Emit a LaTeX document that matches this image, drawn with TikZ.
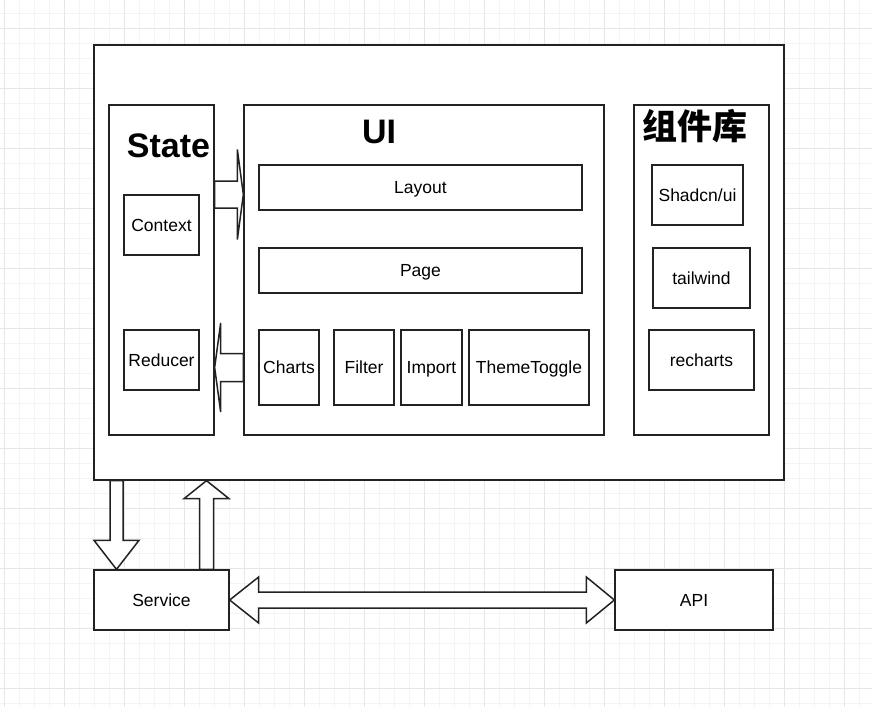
\documentclass[tikz,border=0pt]{standalone}
\usepackage{fontspec}
\setmainfont{Liberation Sans}
\newfontfamily\cjkfont{Noto Sans CJK SC}
\usetikzlibrary{calc}
\definecolor{strokec}{HTML}{222222}
\definecolor{gridminor}{HTML}{F4F4F4}
\definecolor{gridmajor}{HTML}{E6E6E6}
\tikzset{
  box/.style={draw=strokec, line width=1.3pt, fill=white, rectangle, inner sep=0pt,
    font=\fontsize{17.5}{20}\selectfont, text height=12.6pt, text depth=0pt},
  heading/.style={font=\fontsize{34}{38}\selectfont\bfseries, inner sep=0pt, anchor=base},
  barrow/.style={draw=strokec, line width=1.5pt, fill=white, line join=miter},
}
% #1 start, #2 tip, #3 body half width, #4 head half width, #5 head length
\newcommand\flatarrow[5]{%
  \coordinate (fa-a) at (#1);
  \coordinate (fa-b) at (#2);
  \coordinate (fa-h) at ($(fa-b)!#5!(fa-a)$);
  \draw[barrow] ($(fa-a)!#3!90:(fa-b)$) -- ($(fa-h)!#3!-90:(fa-a)$) -- ($(fa-h)!#4!-90:(fa-a)$)
    -- (fa-b) -- ($(fa-h)!#4!90:(fa-a)$) -- ($(fa-h)!#3!90:(fa-a)$) -- ($(fa-a)!#3!-90:(fa-b)$) -- cycle;
}
\begin{document}
\begin{tikzpicture}[x=1pt,y=-1pt]
\useasboundingbox (0,0) rectangle (872,707);
\fill[white] (0,0) rectangle (872,707);
% grid
\foreach \x in {4,19,...,872} {\draw[gridminor, line width=0.8pt] (\x,0) -- (\x,707);}
\foreach \y in {13,28,...,707} {\draw[gridminor, line width=0.8pt] (0,\y) -- (872,\y);}
\foreach \x in {4,64,...,872} {\draw[gridmajor, line width=0.8pt] (\x,0) -- (\x,707);}
\foreach \y in {28,88,...,707} {\draw[gridmajor, line width=0.8pt] (0,\y) -- (872,\y);}

% outer container
\node[box, minimum width=690pt, minimum height=435pt] (outer) at (439,262.5) {};
% groups
\node[box, minimum width=105pt, minimum height=330pt] (state) at (161.5,270) {};
\node[box, minimum width=360pt, minimum height=330pt] (ui) at (424,270) {};
\node[box, minimum width=135pt, minimum height=330pt] (lib) at (701.5,270) {};

\node[heading] (statet) at (168.5,157) {State};
\node[heading] (uit) at (379,143) {UI};
\node[font=\fontsize{35}{38}\selectfont\cjkfont\bfseries, inner sep=0pt] (libt) at (694.5,126) {组件库};

% state children
\node[box, minimum width=75pt, minimum height=60pt] (context) at (161.5,225) {Context};
\node[box, minimum width=75pt, minimum height=60pt] (reducer) at (161.5,360) {Reducer};

% ui children
\node[box, minimum width=323pt, minimum height=45pt] (layout) at (420.5,187.5) {Layout};
\node[box, minimum width=323pt, minimum height=45pt] (page) at (420.5,270.5) {Page};
\node[box, minimum width=60pt, minimum height=75pt] (charts) at (289,367.5) {Charts};
\node[box, minimum width=60pt, minimum height=75pt] (filter) at (364,367.5) {Filter};
\node[box, minimum width=61pt, minimum height=75pt] (import) at (431.5,367.5) {Import};
\node[box, minimum width=120pt, minimum height=75pt] (theme) at (529,367.5) {ThemeToggle};

% lib children
\node[box, minimum width=91pt, minimum height=60pt] (shadcn) at (697.5,195) {Shadcn/ui};
\node[box, minimum width=97pt, minimum height=60pt] (tailwind) at (701.5,278) {tailwind};
\node[box, minimum width=105pt, minimum height=60pt] (recharts) at (701.5,360) {recharts};

% bottom
\node[box, minimum width=135pt, minimum height=60pt] (service) at (161.5,600) {Service};
\node[box, minimum width=158pt, minimum height=60pt] (api) at (694,600) {API};

% block arrows
\flatarrow{state.east |- 0,194.5}{ui.west |- 0,194.5}{13.5pt}{45pt}{6pt}
\flatarrow{ui.west |- 0,367.5}{state.east |- 0,367.5}{14pt}{44.5pt}{6pt}
\flatarrow{116.5,0 |- outer.south}{116.5,0 |- service.north}{6.5pt}{22.5pt}{29pt}
\flatarrow{206.5,0 |- service.north}{206.5,0 |- outer.south}{7pt}{22.5pt}{18pt}

% double arrow service <-> api
\coordinate (da-l) at (service.east);
\coordinate (da-r) at (api.west);
\draw[barrow] (da-l) -- ($(da-l)+(29,-23)$) -- ($(da-l)+(29,-8)$) -- ($(da-r)+(-28,-8)$) -- ($(da-r)+(-28,-23)$)
  -- (da-r) -- ($(da-r)+(-28,23)$) -- ($(da-r)+(-28,8)$) -- ($(da-l)+(29,8)$) -- ($(da-l)+(29,23)$) -- cycle;
\end{tikzpicture}
\end{document}
